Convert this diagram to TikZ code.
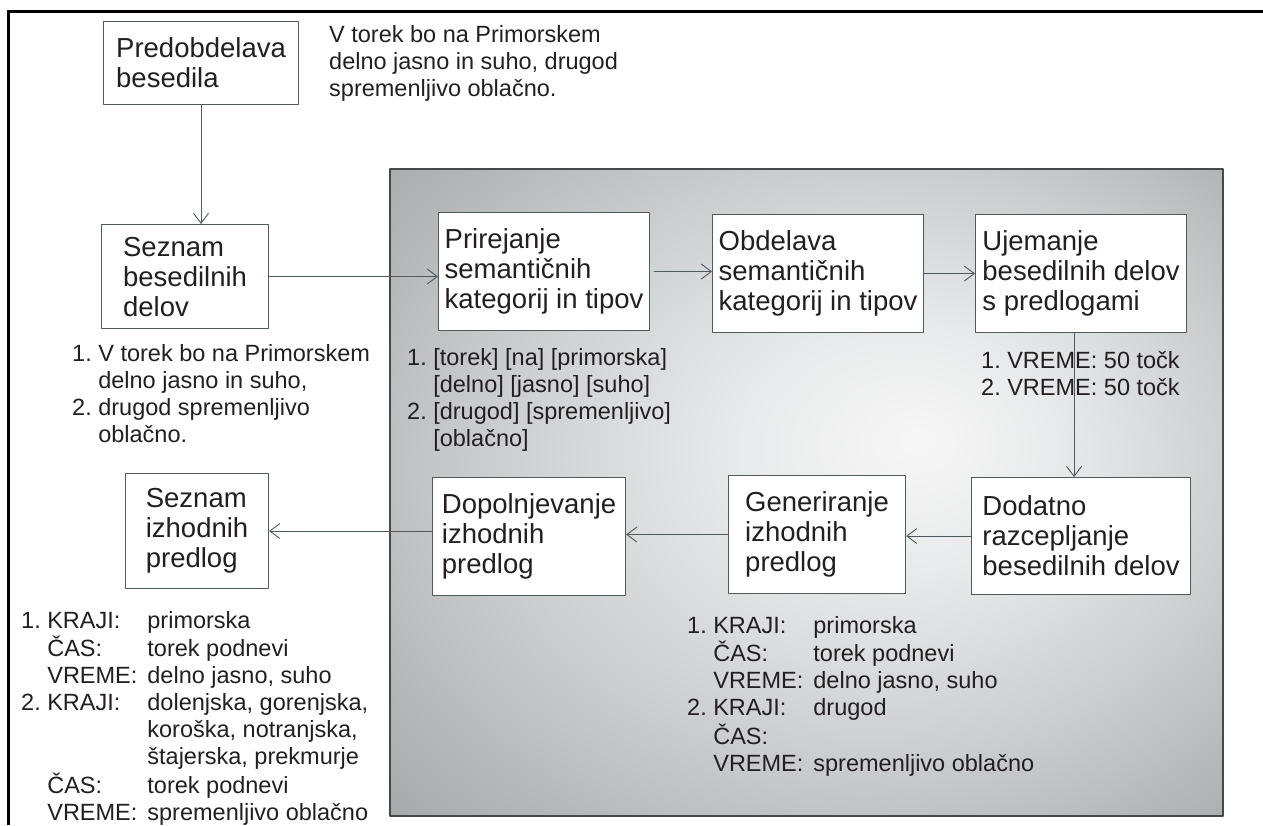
\documentclass[tikz,border=0pt]{standalone}
\usepackage{fontspec}
\setmainfont{Liberation Sans}
\usepackage{xcolor}
\usetikzlibrary{arrows.meta}

\definecolor{ink}{RGB}{35,31,32}
\definecolor{boxline}{RGB}{80,90,92}
\definecolor{panelline}{RGB}{70,72,74}
\definecolor{bgA}{RGB}{247,247,247}
\definecolor{bgB}{RGB}{232,233,234}
\definecolor{bgC}{RGB}{201,202,204}
\definecolor{bgD}{RGB}{170,172,174}
\definecolor{bgE}{RGB}{140,142,144}
\pgfdeclareradialshading{panel}{\pgfpoint{6.8bp}{4.1bp}}{color(0bp)=(bgA); color(10bp)=(bgB); color(24bp)=(bgC); color(36bp)=(bgD); color(50bp)=(bgE)}

\newcommand\boxfont{\fontsize{27.5}{30}\selectfont}
\newcommand\notefont{\fontsize{23.5}{27}\selectfont}

\begin{document}
\begin{tikzpicture}[x=1pt,y=-1pt,line cap=round,line join=round,
  >={Straight Barb[length=10pt,width=15pt]},
  box/.style={draw=boxline,line width=1.1pt,fill=white,align=left,inner sep=0pt,
    anchor=north west,text=ink,font=\boxfont},
  note/.style={anchor=base west,inner sep=0pt,text=ink,font=\notefont},
  flow/.style={->,draw=boxline,line width=0.9pt}]
\useasboundingbox (0,0) rectangle (1263,825);
% frame and shaded panel
\draw[line width=3pt,line cap=butt,line join=miter] (1263,11) -- (8,11) -- (8,825);
\shade[shading=panel,draw=panelline,line width=1.5pt] (390,169) rectangle (1223,816);

% boxes
\node[box,minimum width=195pt,minimum height=83pt] (pre) at (103,21) {Predobdelava\\besedila};
\node[box,minimum width=167pt,minimum height=104pt] (sez) at (101,224) {Seznam\\besedilnih\\delov};
\node[box,minimum width=211pt,minimum height=118pt] (pri) at (438,212) {Prirejanje\\semantičnih\\kategorij in tipov};
\node[box,minimum width=211pt,minimum height=118pt] (obd) at (712,214) {Obdelava\\semantičnih\\kategorij in tipov};
\node[box,minimum width=211pt,minimum height=118pt] (uje) at (975,214) {Ujemanje\\besedilnih delov\\s predlogami};
\node[box,minimum width=219pt,minimum height=117pt] (dod) at (971,477) {Dodatno\\razcepljanje\\besedilnih delov};
\node[box,minimum width=177pt,minimum height=118pt] (gen) at (728,475) {Generiranje\\izhodnih\\predlog};
\node[box,minimum width=193pt,minimum height=118pt] (dop) at (432,477) {Dopolnjevanje\\izhodnih\\predlog};
\node[box,minimum width=143pt,minimum height=115pt] (izh) at (125,473) {Seznam\\izhodnih\\predlog};

% texts
\node[note] (intro) at (329,42) {\begin{tabular}[t]{@{}l@{}}V torek bo na Primorskem\\delno jasno in suho, drugod\\spremenljivo oblačno.\end{tabular}};
\node[note] (sezt) at (72,361) {\begin{tabular}[t]{@{}l@{\ }l@{}}1.&V torek bo na Primorskem\\&delno jasno in suho,\\2.&drugod spremenljivo\\&oblačno.\end{tabular}};
\node[note] (prit) at (407,365) {\begin{tabular}[t]{@{}l@{\ }l@{}}1.&[torek] [na] [primorska]\\&[delno] [jasno] [suho]\\2.&[drugod] [spremenljivo]\\&[oblačno]\end{tabular}};
\node[note] (ujet) at (981,368) {\begin{tabular}[t]{@{}l@{\ }l@{}}1.&VREME: 50 točk\\2.&VREME: 50 točk\end{tabular}};
\node[note] (gent) at (687,633) {\begin{tabular}[t]{@{}l@{\ }l@{\hspace{10pt}}l@{}}1.&KRAJI:&primorska\\&ČAS:&torek podnevi\\&VREME:&delno jasno, suho\\2.&KRAJI:&drugod\\&ČAS:&\\&VREME:&spremenljivo oblačno\end{tabular}};
\node[note] (izht) at (21,628) {\begin{tabular}[t]{@{}l@{\ }l@{\hspace{10pt}}l@{}}1.&KRAJI:&primorska\\&ČAS:&torek podnevi\\&VREME:&delno jasno, suho\\2.&KRAJI:&dolenjska, gorenjska,\\&&koroška, notranjska,\\&&štajerska, prekmurje\\&ČAS:&torek podnevi\\&VREME:&spremenljivo oblačno\end{tabular}};

% arrows
\draw[flow] (pre.south) -- (pre.south |- sez.north);
\draw[flow] (sez.east) -- (sez.east -| pri.west);
\draw[flow] ([xshift=4pt]pri.east) -- (pri.east -| obd.west);
\draw[flow] (obd.east) -- (obd.east -| uje.west);
\draw[flow] ([xshift=-7pt]uje.south) -- ([xshift=-7pt]uje.south |- dod.north);
\draw[flow] (dod.west) -- (dod.west -| gen.east);
\draw[flow] (gen.west) -- (gen.west -| dop.east);
\draw[flow] (izh.east -| dop.west) -- (izh.east);
\end{tikzpicture}
\end{document}
